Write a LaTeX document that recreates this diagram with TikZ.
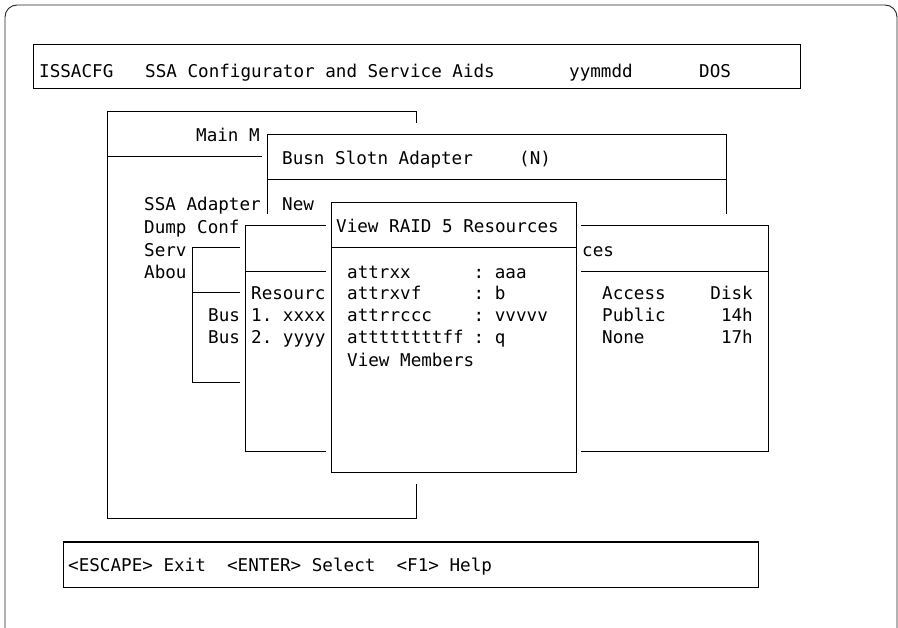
\documentclass[tikz,border=0pt]{standalone}
\usepackage{fontspec}
\setmonofont{DejaVu Sans Mono}
\begin{document}
\begin{tikzpicture}[x=1pt,y=-1pt,
  frameline/.style={line width=0.9pt, draw=black!85},
  winline/.style={line width=1pt, draw=black},
  pane/.style={fill=white},
  txt/.style={inner sep=0pt, anchor=base west,
    font=\ttfamily\fontsize{17.6}{20}\selectfont, text=black},
  txtr/.style={txt, anchor=base east}]

\useasboundingbox (0,0) rectangle (898,628);

% outer screen frame (runs past the lower edge)
\begin{scope}
  \clip (0,0) rectangle (898,628);
  \draw[frameline, rounded corners=12pt] (5,5) rectangle (897,650);
\end{scope}

% title bar
\draw[winline] (33,45) rectangle (800,89);
\node[txt] (tprog) at (39,77.4) {ISSACFG};
\node[txt] (tname) at (145,77.4) {SSA Configurator and Service Aids};
\node[txt] (tdate) at (569,77.4) {yymmdd};
\node[txt] (tos)   at (699,77.4) {DOS};

% main menu window
\fill[pane] (102,100.5) rectangle (421,530.5);
\draw[winline] (107,112) rectangle (416,519);
\draw[winline] (107,157) -- (416,157);
\node[txt] (mtitle) at (196,141.4) {Main M};
\node[txt] (mssa)   at (144,210.4) {SSA Adapter};
\node[txt] (mdump)  at (144,233.4) {Dump Conf};
\node[txt] (mserv)  at (144,256.4) {Serv};
\node[txt] (mabou)  at (144,278.4) {Abou};

% bus / slot / adapter window
\fill[pane] (262,123.5) rectangle (731,441.5);
\draw[winline] (267,135) rectangle (726,430);
\draw[winline] (267,180) -- (726,180);
\node[txt] (btitle) at (282,164.4) {Busn Slotn Adapter};
\node[txt] (bn)     at (519,164.4) {(N)};
\node[txt] (bnew)   at (282,210.4) {New};

% service aids window
\fill[pane] (187,236.5) rectangle (305,394.5);
\draw[winline] (192,248) rectangle (300,383);
\draw[winline] (192,293) -- (300,293);
\node[txt] (sbus1) at (208,321.4) {Bus};
\node[txt] (sbus2) at (208,343.4) {Bus};

% resources window
\fill[pane] (240,214.5) rectangle (773,463.5);
\draw[winline] (245,226) rectangle (768,452);
\draw[winline] (245,272) -- (768,272);
\node[txt]  (rtitle) at (582,256.4) {ces};
\node[txt]  (rhead)  at (251,299.4) {Resourc};
\node[txt]  (rrow1)  at (251,321.4) {1. xxxx};
\node[txt]  (rrow2)  at (251,343.4) {2. yyyy};
\node[txt]  (racc)   at (602,299.4) {Access};
\node[txt]  (rpub)   at (602,321.4) {Public};
\node[txt]  (rnone)  at (602,343.4) {None};
\node[txtr] (rdisk)  at (753,299.4) {Disk};
\node[txtr] (rd14)   at (753,321.4) {14h};
\node[txtr] (rd17)   at (753,343.4) {17h};

% RAID 5 resource view window
\fill[pane] (326,191.5) rectangle (581,484.5);
\draw[winline] (331,203) rectangle (576,473);
\draw[winline] (331,248) -- (576,248);
\node[txt] (vtitle) at (336,232.4) {View RAID 5 Resources};
\node[txt] (va1) at (347,278.4) {attrxx};
\node[txt] (va2) at (347,299.4) {attrxvf};
\node[txt] (va3) at (347,321.4) {attrrccc};
\node[txt] (va4) at (347,343.4) {attttttttff};
\node[txt] (vv1) at (473.5,278.4) {: aaa};
\node[txt] (vv2) at (473.5,299.4) {: b};
\node[txt] (vv3) at (473.5,321.4) {: vvvvv};
\node[txt] (vv4) at (473.5,343.4) {: q};
\node[txt] (vmem) at (347,366.4) {View Members};

% function key bar
\draw[winline] (63,542) rectangle (758,587);
\node[txt] (keys) at (68,571.4) {<ESCAPE> Exit~~<ENTER> Select~~<F1> Help};
\end{tikzpicture}
\end{document}
